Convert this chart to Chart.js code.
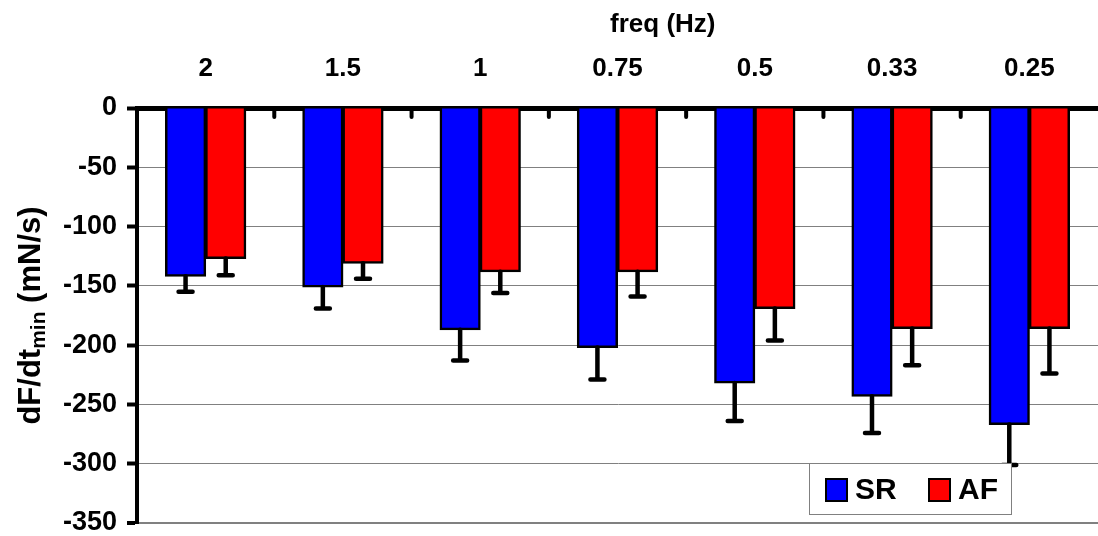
<!DOCTYPE html>
<html>
<head>
<meta charset="utf-8">
<script src="https://cdn.jsdelivr.net/npm/chart.js@4.4.1/dist/chart.umd.min.js"></script>
<style>
  html, body { margin: 0; padding: 0; background: #fff; }
  #wrap { width: 1098px; height: 536px; }
</style>
</head>
<body>
<div id="wrap"><canvas id="chart" width="1098" height="536"></canvas></div>
<script>
// data (dF/dt min, mN/s) - error bars only go downward
const freqLabels = ['2', '1.5', '1', '0.75', '0.5', '0.33', '0.25'];
const srValues = [-142, -151, -187, -202, -232, -243, -267];
const srErrors = [13, 18, 26, 27, 32, 31, 34];
const afValues = [-127, -131, -138, -138, -169, -186, -186];
const afErrors = [14, 13, 18, 21, 27, 31, 38];
const yMin = -350, yMax = 0, yStep = 50;

const FONT = "'Liberation Sans', Arial, sans-serif";

// error bars, drawn from the end of each bar downwards
const errorBars = {
    id: 'errorBars',
    afterDatasetsDraw(chart) {
        const ctx = chart.ctx;
        const y = chart.scales.y;
        ctx.save();
        ctx.strokeStyle = '#000';
        ctx.lineWidth = 4.5;
        ctx.lineCap = 'round';
        chart.data.datasets.forEach((ds, i) => {
            chart.getDatasetMeta(i).data.forEach((bar, j) => {
                const yEnd = y.getPixelForValue(ds.data[j] - ds.errors[j]);
                ctx.beginPath();
                ctx.moveTo(bar.x, bar.y);
                ctx.lineTo(bar.x, yEnd);
                ctx.moveTo(bar.x - 7, yEnd);
                ctx.lineTo(bar.x + 7, yEnd);
                ctx.stroke();
            });
        });
        ctx.restore();
    }
};

// short inward ticks on the top axis between categories, titles and legend box
const decorations = {
    id: 'decorations',
    afterDraw(chart) {
        const ctx = chart.ctx;
        const x = chart.scales.x;
        const area = chart.chartArea;
        ctx.save();

        ctx.strokeStyle = '#000';
        ctx.lineWidth = 4;
        ctx.lineCap = 'round';
        for (let i = 0; i < freqLabels.length - 1; i++) {
            const px = (x.getPixelForValue(i) + x.getPixelForValue(i + 1)) / 2;
            ctx.beginPath();
            ctx.moveTo(px, area.top);
            ctx.lineTo(px, area.top + 9);
            ctx.stroke();
        }

        // x title
        ctx.fillStyle = '#000';
        ctx.font = `bold 26px ${FONT}`;
        ctx.textAlign = 'center';
        ctx.textBaseline = 'middle';
        ctx.fillText('freq (Hz)', x.getPixelForValue(3.33), 25);

        // y title with subscript
        const main = 'dF/dt', sub = 'min', rest = ' (mN/s)';
        const big = `bold 31px ${FONT}`, small = `bold 21px ${FONT}`;
        ctx.font = big;
        const w1 = ctx.measureText(main).width, w3 = ctx.measureText(rest).width;
        ctx.font = small;
        const w2 = ctx.measureText(sub).width;
        const total = w1 + w2 + w3;
        ctx.translate(40, (area.top + area.bottom) / 2);
        ctx.rotate(-Math.PI / 2);
        ctx.textAlign = 'left';
        ctx.textBaseline = 'alphabetic';
        let cx = -total / 2;
        ctx.font = big;
        ctx.fillText(main, cx, 0);
        cx += w1;
        ctx.font = small;
        ctx.fillText(sub, cx, 5);
        cx += w2;
        ctx.font = big;
        ctx.fillText(rest, cx, 0);
        ctx.setTransform(1, 0, 0, 1, 0, 0);

        // legend
        const bx = area.right - 289, by = area.bottom - 60;
        ctx.fillStyle = '#fff';
        ctx.fillRect(bx, by, 202, 51);
        ctx.strokeStyle = '#808080';
        ctx.lineWidth = 1;
        ctx.strokeRect(bx + 0.5, by + 0.5, 202, 51);
        const items = [
            { text: chart.data.datasets[0].label, color: chart.data.datasets[0].backgroundColor, sx: 17, tx: 46 },
            { text: chart.data.datasets[1].label, color: chart.data.datasets[1].backgroundColor, sx: 120, tx: 149 }
        ];
        items.forEach(it => {
            ctx.fillStyle = it.color;
            ctx.fillRect(bx + it.sx, by + 16, 21, 22);
            ctx.strokeStyle = '#000';
            ctx.lineWidth = 2;
            ctx.strokeRect(bx + it.sx, by + 16, 21, 22);
            ctx.fillStyle = '#000';
            ctx.font = `bold 30px ${FONT}`;
            ctx.textAlign = 'left';
            ctx.textBaseline = 'middle';
            ctx.fillText(it.text, bx + it.tx, by + 28);
        });

        ctx.restore();
    }
};

new Chart(document.getElementById('chart'), {
    type: 'bar',
    data: {
        labels: freqLabels,
        datasets: [
            { label: 'SR', data: srValues, errors: srErrors, backgroundColor: '#0000ff', borderColor: '#000', borderWidth: 2.5, inflateAmount: 0.5 },
            { label: 'AF', data: afValues, errors: afErrors, backgroundColor: '#ff0000', borderColor: '#000', borderWidth: 2.5, inflateAmount: 0.5 }
        ]
    },
    options: {
        responsive: false,
        animation: false,
        layout: { padding: { left: 0, right: 0, top: 0, bottom: 0 } },
        datasets: { bar: { categoryPercentage: 0.585, barPercentage: 1 } },
        scales: {
            x: {
                position: 'top',
                grid: { display: true, drawOnChartArea: false, drawTicks: false },
                border: { display: true, width: 5, color: '#000' },
                ticks: {
                    autoSkip: false, maxRotation: 0, color: '#000', padding: 24,
                    font: { family: FONT, size: 26, weight: 'bold', lineHeight: 1.15 }
                },
                afterFit(scale) { scale.height = 108; }
            },
            y: {
                min: yMin,
                max: yMax,
                ticks: {
                    stepSize: yStep, color: '#000', padding: 10,
                    font: { family: FONT, size: 27, weight: 'bold', lineHeight: 1 }
                },
                grid: {
                    color: '#808080',
                    lineWidth: ctx => (ctx.tick && ctx.tick.value === yMin ? 2 : 1),
                    tickColor: '#000', tickWidth: 4, tickLength: 10
                },
                border: { display: true, width: 4, color: '#000' },
                afterFit(scale) {
                    scale.width = 137;
                    scale.paddingTop = 0;
                    scale.paddingBottom = 13;
                }
            }
        },
        plugins: {
            legend: { display: false },
            tooltip: { enabled: false }
        }
    },
    plugins: [errorBars, decorations]
});
</script>
</body>
</html>
